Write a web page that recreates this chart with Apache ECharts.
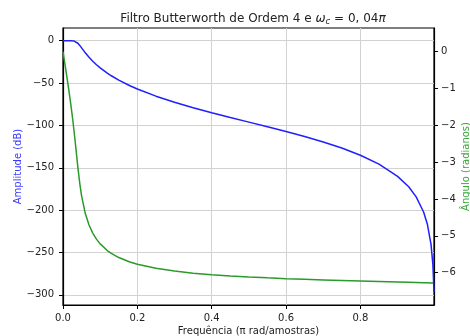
<!DOCTYPE html>
<html>
<head>
<meta charset="utf-8">
<script src="https://cdn.jsdelivr.net/npm/echarts@6/dist/echarts.min.js"></script>
<style>
  html, body { margin: 0; padding: 0; background: #fff; }
  #chart { width: 470px; height: 336px; }
</style>
</head>
<body>
<div id="chart"></div>
<script>
// Frequency (π rad/amostras)
const freq = [0, 0.005, 0.01, 0.015, 0.02, 0.025, 0.03, 0.035, 0.04, 0.045, 0.05, 0.06, 0.07, 0.08, 0.09, 0.1, 0.12, 0.13, 0.15, 0.18, 0.2, 0.25, 0.3, 0.35, 0.4, 0.45, 0.5, 0.55, 0.6, 0.65, 0.7, 0.75, 0.8, 0.85, 0.9, 0.93, 0.95, 0.97, 0.98, 0.99, 0.995, 0.998];
// Amplitude (dB)
const amplitudeDb = [0, 0, 0, -0.002, -0.017, -0.099, -0.41, -1.28, -3.01, -5.53, -8.45, -14.31, -19.59, -24.24, -28.35, -32.08, -38.54, -41.39, -46.53, -53.19, -57.04, -65.48, -72.67, -79.08, -85.00, -90.62, -96.10, -101.58, -107.20, -113.11, -119.53, -126.72, -135.16, -145.67, -160.12, -172.48, -184.42, -202.21, -216.32, -240.4, -264.5, -296.5];
// Ângulo (radianos)
const phaseRad = [0, -0.327, -0.658, -1.000, -1.360, -1.749, -2.183, -2.659, -3.142, -3.570, -3.915, -4.397, -4.709, -4.928, -5.092, -5.220, -5.408, -5.478, -5.592, -5.714, -5.775, -5.885, -5.960, -6.015, -6.057, -6.091, -6.119, -6.143, -6.164, -6.182, -6.199, -6.215, -6.230, -6.244, -6.257, -6.265, -6.270, -6.275, -6.278, -6.281, -6.282, -6.283];

const xTicks = [0, 0.2, 0.4, 0.6, 0.8];
const leftTicks = [0, -50, -100, -150, -200, -250, -300];
const rightTicks = [0, -1, -2, -3, -4, -5, -6];

const FONT = 'DejaVu Sans';
const minus = s => String(s).replace('-', '\u2212');
const inList = (v, list) => list.some(t => Math.abs(t - v) < 1e-6);

const chart = echarts.init(document.getElementById('chart'), null, { renderer: 'canvas' });

const option = {
  animation: false,
  backgroundColor: '#ffffff',
  title: {
    text: '{n|Filtro Butterworth de Ordem 4 e }{i|ω}{s|c}{n| = 0, 04}{i|π}',
    left: 248,
    textAlign: 'center',
    top: 6,
    textStyle: {
      fontWeight: 'normal',
      rich: {
        n: { fontFamily: FONT, fontSize: 12, fontWeight: 'normal', color: '#222' },
        i: { fontFamily: FONT, fontSize: 12, fontWeight: 'normal', fontStyle: 'italic', color: '#222' },
        s: { fontFamily: FONT, fontSize: 8.5, fontWeight: 'normal', fontStyle: 'italic', color: '#222', padding: [6, 0, 0, 0] }
      }
    }
  },
  grid: {
    left: 63, right: 36, top: 28, bottom: 31,
    containLabel: false,
    outerBoundsMode: 'none',
    show: true, borderColor: '#000', borderWidth: 1.2
  },
  xAxis: {
    type: 'value', min: 0, max: 0.998, interval: 0.2,
    axisLine: { show: true, onZero: false, lineStyle: { color: '#000', width: 1.2 } },
    axisTick: { show: true, length: 4, customValues: xTicks, lineStyle: { color: '#000' } },
    axisLabel: {
      fontFamily: FONT, fontSize: 10, color: '#222', margin: 8,
      customValues: xTicks,
      formatter: v => inList(v, xTicks) ? v.toFixed(1) : ''
    },
    splitLine: { show: true, lineStyle: { color: '#d2d2d2', width: 1 } },
    name: 'Frequência (π rad/amostras)',
    nameLocation: 'middle', nameGap: 21, nameMoveOverlap: false,
    nameTextStyle: { fontFamily: FONT, fontSize: 10, color: '#222' }
  },
  yAxis: [
    {
      type: 'value', position: 'left', min: -312, max: 15, splitNumber: 7,
      axisLine: { show: true, onZero: false, lineStyle: { color: '#000', width: 1.2 } },
      axisTick: { show: true, length: 4, customValues: leftTicks, lineStyle: { color: '#000' } },
      axisLabel: {
        fontFamily: FONT, fontSize: 10, color: '#222', margin: 9,
        customValues: leftTicks,
        formatter: v => inList(v, leftTicks) ? minus(v) : ''
      },
      splitLine: { show: true, lineStyle: { color: '#d2d2d2', width: 1 } },
      name: 'Amplitude (dB)',
      nameLocation: 'middle', nameGap: 40, nameRotate: 90, nameMoveOverlap: false,
      nameTextStyle: { fontFamily: FONT, fontSize: 10, color: '#3b3bff' }
    },
    {
      type: 'value', position: 'right', min: -6.88, max: 0.64, splitNumber: 8,
      axisLine: { show: true, onZero: false, lineStyle: { color: '#000', width: 1.2 } },
      axisTick: { show: true, length: 4, customValues: rightTicks, lineStyle: { color: '#000' } },
      axisLabel: {
        fontFamily: FONT, fontSize: 10, color: '#222', margin: 7,
        customValues: rightTicks,
        formatter: v => inList(v, rightTicks) ? minus(v) : ''
      },
      splitLine: { show: false },
      name: 'Ângulo (radianos)',
      nameLocation: 'middle', nameGap: 27, nameRotate: 90, nameMoveOverlap: false,
      nameTextStyle: { fontFamily: FONT, fontSize: 10, color: '#3aa83a' }
    }
  ],
  series: [
    {
      name: 'Amplitude',
      type: 'line', yAxisIndex: 0,
      data: freq.map((f, i) => [f, amplitudeDb[i]]),
      showSymbol: false, smooth: false,
      lineStyle: { color: '#1f1fff', width: 1.5 },
      z: 3
    },
    {
      name: 'Ângulo',
      type: 'line', yAxisIndex: 1,
      data: freq.map((f, i) => [f, phaseRad[i]]),
      showSymbol: false, smooth: false,
      lineStyle: { color: '#2a9a2a', width: 1.5 },
      z: 2
    }
  ]
};

chart.setOption(option);
</script>
</body>
</html>
